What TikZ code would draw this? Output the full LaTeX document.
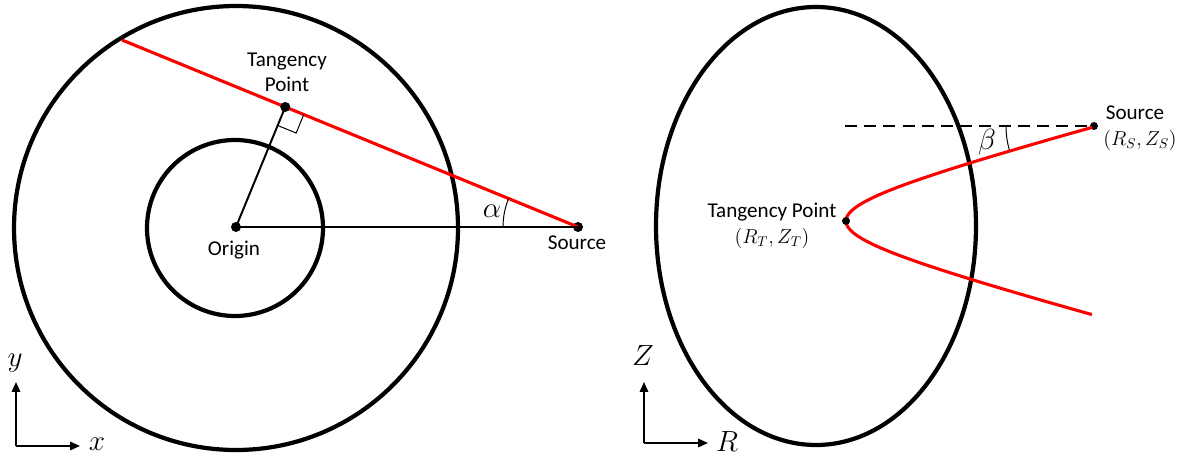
\documentclass[tikz,border=0pt]{standalone}
\usepackage{fontspec}
\setmainfont{Carlito}
\usepackage{tikz}
\usetikzlibrary{arrows.meta, positioning, calc}

\tikzset{
  ring/.style={line width=3pt},
  ray/.style={red, line width=2.2pt},
  thinline/.style={line width=1.4pt},
  dot/.style={circle, fill, inner sep=0pt, minimum size=0.25cm},
  smalldot/.style={circle, fill, inner sep=0pt, minimum size=0.2cm},
  axis/.style={line width=1.2pt, -{Triangle[length=7pt, width=6pt]}},
  txt/.style={font=\fontsize{15}{18}\selectfont},
  sym/.style={font=\fontsize{20}{24}\selectfont},
  coordlbl/.style={font=\fontsize{14.5}{17}\selectfont}
}

\begin{document}
\begin{tikzpicture}[x=0.025cm, y=-0.025cm]
  \useasboundingbox (0,0) rectangle (1191,460);
  % Top view
  \draw[ring] (236,228) circle[radius=222];
  \draw[ring] (235,228) circle[radius=88];
  \node[dot] (origin) at (236,227) {};
  \node[dot] (srcA) at (578,227) {};
  \coordinate (rimA) at (122,40);
  \coordinate (tanA) at ($(srcA)!(origin)!(rimA)$);
  \draw[ray] (srcA.center) -- (rimA);
  \draw[thinline] (origin.center) -- (srcA.center);
  \draw[thinline] (origin.center) -- (tanA);
  \node[dot] (tanptA) at (tanA) {};
  % right angle mark
  \coordinate (ra) at ($(tanA)!0.5cm!(srcA)$);
  \coordinate (rb) at ($(tanA)!0.5cm!(origin)$);
  \draw[line width=0.7pt] (ra) -- ($(ra)+(rb)-(tanA)$) -- (rb);
  \draw[line width=0.7pt] ($(srcA)+(-75,0)$) arc[start angle=180, end angle=157.7, radius=1.875cm];
  \node[sym] (alpha) at (492,211) {$\alpha$};
  \node[txt, align=center] (tanlblA) at (287,72) {Tangency\\Point};
  \node[txt] (originlbl) at (234,250) {Origin};
  \node[txt] (srclblA) at (577,243) {Source};
  % Axes
  \coordinate (axA) at (16,446);
  \draw[axis] (axA) -- (16,382);
  \draw[axis] (axA) -- (80,446);
  \node[sym] (ylbl) at (15,363) {$y$};
  \node[sym] (xlbl) at (97,444) {$x$};

  % Side view
  \draw[ring] (816,226) ellipse[x radius=160, y radius=219];
  \node[smalldot] (srcB) at (1094,126) {};
  \draw[thinline, dash pattern=on 0.3cm off 0.18cm] (845,126) -- (srcB.center);
  \draw[ray] plot[domain=-1.71:1.71, samples=80, smooth, variable=\t]
    ({846+132.6*(cosh(\t)-1)}, {221+35*sinh(\t)});
  \node[smalldot] (tanB) at (846,221) {};
  \draw[line width=0.7pt] ($(srcB)+(-88,0)$) arc[start angle=180, end angle=196, radius=2.2cm];
  \node[sym] (beta) at (987,142) {$\beta$};
  \node[txt] (srclblB) at (1135,113) {Source};
  \node[coordlbl] (srcposB) at (1140,140) {$(R_S,Z_S)$};
  \node[txt] (tanlblB) at (772,212) {Tangency Point};
  \node[coordlbl] (tanposB) at (772,238) {$(R_T,Z_T)$};
  % Axes
  \coordinate (axB) at (644,443);
  \draw[axis] (axB) -- (644,382);
  \draw[axis] (axB) -- (708,443);
  \node[sym] (zlbl) at (643,356) {$Z$};
  \node[sym] (rlbl) at (727,442) {$R$};
\end{tikzpicture}
\end{document}
